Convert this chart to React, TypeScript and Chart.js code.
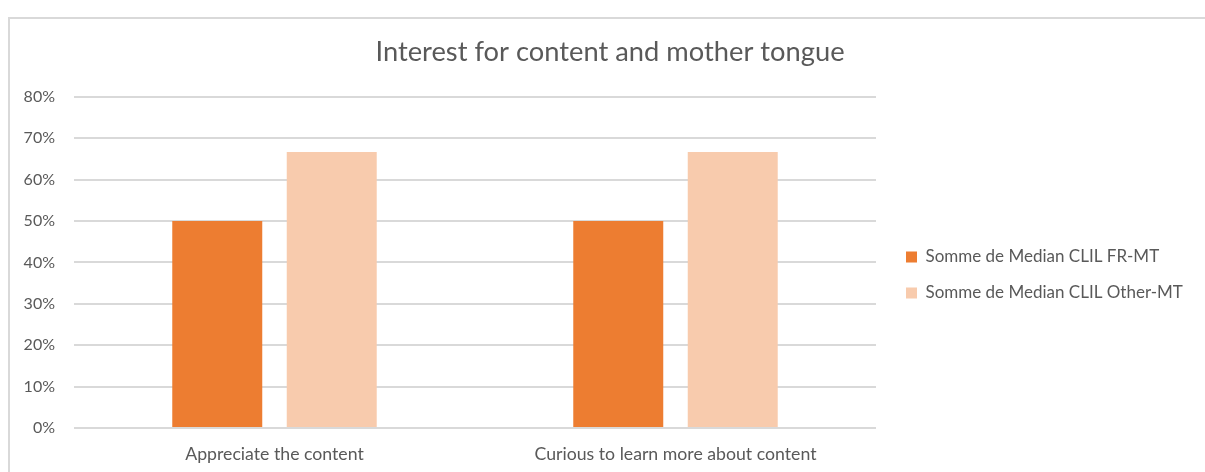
import React, { useEffect, useRef } from 'react';
import { Chart, registerables } from 'chart.js';

Chart.register(...registerables);

const chartTitle = 'Interest for content and mother tongue';
const categories = ['Appreciate the content', 'Curious to learn more about content'];
const seriesNames = ['Somme de Median CLIL FR-MT', 'Somme de Median CLIL Other-MT'];
const frMT = [0.5, 0.5];
const otherMT = [0.6667, 0.6667];
const seriesColors = ['#ED7D31', '#F8CBAD'];
const yMin = 0;
const yMax = 0.8;
const yStep = 0.1;

const FONT = "Lato, 'Open Sans', sans-serif";
const TEXT = '#595959';
const GRID = '#d9d9d9';

const legendPlacement = {
  id: 'legendPlacement',
  beforeLayout(chart: any) {
    const lg: any = chart.legend;
    if (lg && !lg.__patched) {
      const orig = lg.fit.bind(lg);
      lg.fit = function () {
        orig();
        this.width = 329;
      };
      lg.__patched = true;
    }
  },
  afterLayout(chart: any) {
    const lg: any = chart.legend;
    if (!lg) return;
    lg.left += 11;
    lg.right += 11;
    lg.top += 12.5;
    lg.bottom += 12.5;
  },
};

export default function App() {
  const canvasRef = useRef<HTMLCanvasElement | null>(null);

  useEffect(() => {
    const canvas = canvasRef.current;
    if (!canvas) return;
    const chart = new Chart(canvas, {
      type: 'bar',
      data: {
        labels: categories,
        datasets: [
          {
            label: seriesNames[0],
            data: frMT,
            backgroundColor: seriesColors[0],
            borderWidth: 0,
            barPercentage: 0.786,
            categoryPercentage: 0.571,
          },
          {
            label: seriesNames[1],
            data: otherMT,
            backgroundColor: seriesColors[1],
            borderWidth: 0,
            barPercentage: 0.786,
            categoryPercentage: 0.571,
          },
        ],
      },
      options: {
        animation: false,
        responsive: false,
        maintainAspectRatio: false,
        events: [],
        layout: { padding: { left: 15, right: 0, top: 0, bottom: 0 } },
        plugins: {
          tooltip: { enabled: false },
          title: {
            display: true,
            text: chartTitle,
            color: TEXT,
            font: { family: FONT, size: 27.3, weight: 'normal', lineHeight: 1.2 },
            padding: { top: 35.6, bottom: 28.6 },
          },
          legend: {
            display: true,
            position: 'right',
            align: 'center',
            fullSize: false,
            labels: {
              color: TEXT,
              font: { family: FONT, size: 17 },
              boxWidth: 11,
              boxHeight: 11,
              padding: 19,
            },
          },
        },
        scales: {
          x: {
            grid: { display: false, drawTicks: false },
            border: { display: false },
            ticks: {
              color: TEXT,
              font: { family: FONT, size: 17.7 },
              padding: 15.4,
              maxRotation: 0,
            },
            afterFit: (s: any) => {
              s.height = 44;
            },
          },
          y: {
            min: yMin,
            max: yMax,
            ticks: {
              stepSize: yStep,
              color: TEXT,
              font: { family: FONT, size: 16 },
              padding: 19,
              callback: (v: any) => Math.round(Number(v) * 100) + '%',
            },
            grid: { color: GRID, lineWidth: 2, drawTicks: false },
            border: { display: false },
            afterFit: (s: any) => {
              s.width = 59;
            },
          },
        },
      },
      plugins: [legendPlacement],
    } as any);
    return () => chart.destroy();
  }, []);

  return (
    <div>
      <div
        style={{
          position: 'fixed',
          left: 8,
          top: 17,
          width: 1400,
          height: 700,
          borderTop: '2px solid #d9d9d9',
          borderLeft: '2px solid #d9d9d9',
          boxSizing: 'border-box',
          background: '#fff',
        }}
      />
      <canvas
        ref={canvasRef}
        width={1205}
        height={472}
        style={{ position: 'fixed', left: 0, top: 0, width: 1205, height: 472 }}
      />
    </div>
  );
}
